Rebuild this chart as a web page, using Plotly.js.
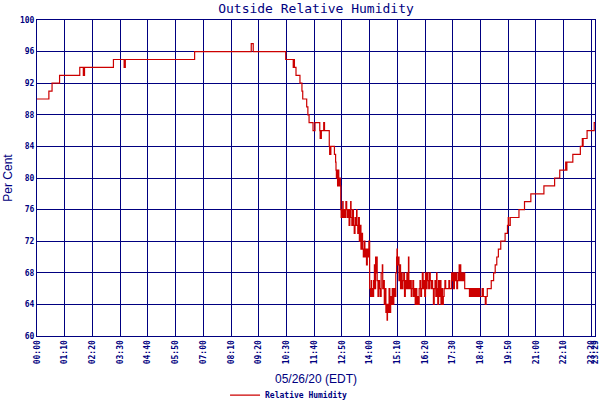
<!DOCTYPE html>
<html>
<head>
<meta charset="utf-8">
<script src="https://cdn.plot.ly/plotly-3.0.1.min.js"></script>
<style>
  body { margin: 0; background: #fff; }
  #chart { width: 600px; height: 400px; }
</style>
</head>
<body>
<div id="chart"></div>
<script>
var day = '2020-05-26 '

// x tick labels (every 70 minutes, plus end of day data)
var tickLabels = ['00:00','01:10','02:20','03:30','04:40','05:50','07:00','08:10','09:20','10:30',
  '11:40','12:50','14:00','15:10','16:20','17:30','18:40','19:50','21:00','22:10','23:20','23:29']

// readings: time of change and relative humidity (%)
var times = ['00:00','00:30','00:38','00:57','01:48','01:57','01:58','01:59','02:00','03:13',
  '03:40','03:41','03:42','03:43','06:38','09:01','09:06','10:28','10:47','10:49',
  '10:50','10:54','11:04','11:09','11:11','11:21','11:24','11:27','11:37','11:42',
  '11:54','11:55','11:56','11:57','11:58','12:04','12:06','12:18','12:19','12:20',
  '12:21','12:22','12:31','12:34','12:35','12:36','12:37','12:38','12:39','12:40',
  '12:41','12:42','12:43','12:44','12:46','12:47','12:48','12:50','12:52','12:53',
  '12:56','12:58','13:00','13:02','13:04','13:06','13:08','13:10','13:12','13:13',
  '13:15','13:17','13:19','13:21','13:23','13:25','13:27','13:28','13:30','13:32',
  '13:34','13:36','13:38','13:40','13:42','13:44','13:46','13:48','13:50','13:52',
  '13:54','13:56','13:58','14:00','14:02','14:04','14:05','14:07','14:10','14:12',
  '14:13','14:15','14:16','14:18','14:19','14:21','14:23','14:25','14:27','14:29',
  '14:32','14:33','14:35','14:37','14:39','14:41','14:43','14:44','14:45','14:47',
  '14:48','14:49','14:51','14:53','14:55','14:57','14:59','15:01','15:03','15:06',
  '15:08','15:09','15:10','15:12','15:14','15:16','15:18','15:20','15:22','15:24',
  '15:26','15:28','15:30','15:32','15:34','15:36','15:38','15:39','15:41','15:43',
  '15:45','15:47','15:49','15:51','15:53','15:55','15:57','15:59','16:01','16:03',
  '16:05','16:07','16:09','16:11','16:13','16:15','16:17','16:19','16:21','16:23',
  '16:25','16:27','16:29','16:31','16:33','16:35','16:37','16:39','16:41','16:43',
  '16:45','16:47','16:49','16:50','16:52','16:54','16:56','16:58','17:00','17:02',
  '17:04','17:06','17:08','17:10','17:12','17:20','17:22','17:27','17:29','17:30',
  '17:32','17:34','17:36','17:38','17:40','17:42','17:44','17:46','17:47','17:49',
  '17:50','17:52','17:54','17:56','17:58','18:00','18:12','18:14','18:17','18:19',
  '18:22','18:24','18:27','18:30','18:33','18:35','18:38','18:44','18:47','18:52',
  '18:54','18:57','19:07','19:13','19:17','19:21','19:25','19:31','19:42','19:48',
  '19:50','19:51','19:55','20:17','20:31','20:47','21:20','21:47','22:00','22:15',
  '22:16','22:18','22:33','22:52','22:57','22:58','22:59','23:09','23:27','23:29']

var rh = [90,91,92,93,94,93,94,93,94,95,
  94,95,94,95,96,97,96,95,94,95,
  94,93,92,91,90,89,88,87,86,87,
  86,85,86,85,86,87,86,84,83,84,
  83,84,83,82,81,80,81,80,79,80,
  81,80,79,80,79,76,75,76,77,75,
  76,75,77,76,75,76,74,76,77,75,
  74,76,74,73,75,74,76,74,73,75,
  72,74,71,73,71,70,72,70,71,69,
  71,70,72,66,65,67,66,65,67,69,
  66,70,68,70,67,65,67,66,65,68,
  69,66,67,64,66,63,64,62,63,64,
  63,66,63,65,64,66,64,66,65,68,
  70,71,69,70,67,69,66,68,66,67,
  68,65,67,66,68,66,70,67,66,67,
  65,66,67,65,66,64,66,64,65,64,
  66,67,65,66,68,66,67,65,68,66,
  68,67,66,68,67,66,67,66,64,66,
  67,65,68,66,64,67,65,67,64,66,
  64,65,66,67,66,67,66,68,67,68,
  66,68,67,68,66,67,68,69,67,69,
  68,67,68,67,68,66,65,66,65,66,
  65,66,65,66,65,66,65,66,65,64,
  65,66,67,68,69,70,71,72,73,74,
  75,74,75,76,77,78,79,80,81,82,
  81,82,83,84,85,84,85,86,87,87]

var yTicks = [60,64,68,72,76,80,84,88,92,96,100]

var navy = '#000080'
var x = times.map(t => day + t)
var tickVals = tickLabels.map(t => day + t)

Plotly.newPlot(document.getElementById('chart'), [
  {
    x: x,
    y: rh,
    name: 'Relative Humidity',
    mode: 'lines',
    line: { color: '#cc0000', width: 1.2, shape: 'hv' }
  }
], {
  width: 600,
  height: 400,
  margin: { l: 37, r: 5, t: 20, b: 64, autoexpand: false },
  paper_bgcolor: '#ffffff',
  plot_bgcolor: '#ffffff',
  showlegend: true,
  legend: {
    orientation: 'h',
    x: 0.337, xanchor: 'left',
    y: -0.187, yanchor: 'middle',
    font: { family: 'DejaVu Sans Mono', size: 8, color: navy, weight: 'bold' }
  },
  title: {
    text: 'Outside Relative Humidity',
    font: { family: 'DejaVu Sans Mono', size: 13, color: navy },
    x: 0.5, xref: 'paper',
    y: 0.978, yref: 'container', yanchor: 'middle'
  },
  xaxis: {
    type: 'date',
    range: [day + '00:00', day + '23:29'],
    tickvals: tickVals,
    ticktext: tickLabels,
    tickangle: -90,
    ticklabeloverflow: 'allow',
    tickfont: { family: 'DejaVu Sans Mono', size: 8, color: navy, weight: 'bold' },
    showgrid: true,
    gridcolor: navy,
    gridwidth: 1,
    showline: true,
    linecolor: navy,
    linewidth: 1,
    mirror: true,
    ticks: '',
    zeroline: false,
    title: {
      text: '05/26/20 (EDT)',
      font: { family: 'Liberation Sans', size: 12, color: navy },
      standoff: 11
    }
  },
  yaxis: {
    range: [60, 100],
    tickvals: yTicks,
    tickfont: { family: 'DejaVu Sans Mono', size: 8, color: navy, weight: 'bold' },
    showgrid: true,
    gridcolor: navy,
    gridwidth: 1,
    showline: true,
    linecolor: navy,
    linewidth: 1,
    mirror: true,
    ticks: '',
    zeroline: false,
    title: {
      text: 'Per Cent',
      font: { family: 'Liberation Sans', size: 12, color: navy },
      standoff: 4
    }
  }
}, { displayModeBar: false, staticPlot: true })
</script>
</body>
</html>
